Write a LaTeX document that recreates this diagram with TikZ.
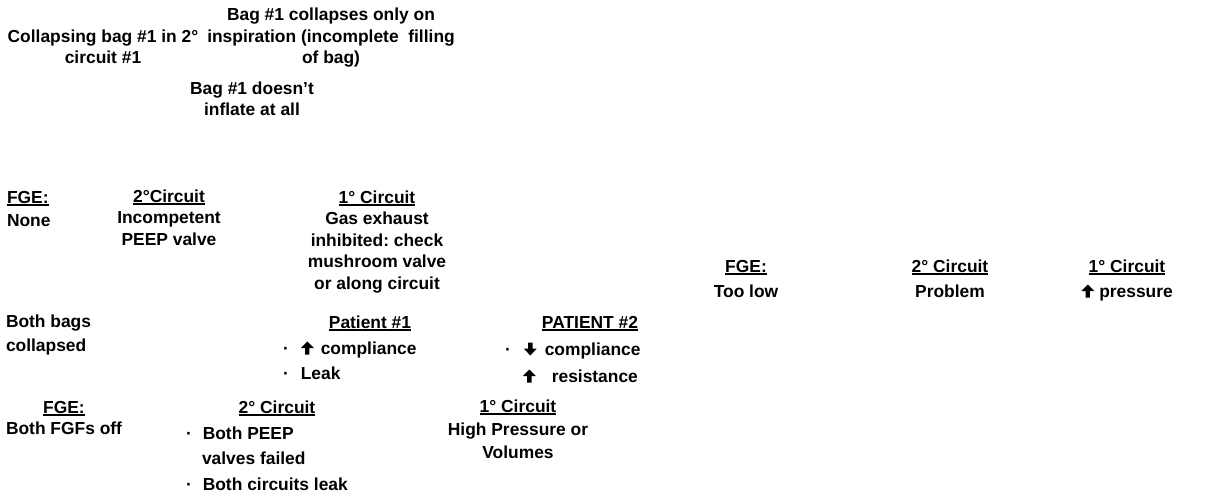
\documentclass[tikz,border=0pt]{standalone}
\usepackage{fontspec}
\setmainfont{Liberation Sans}
\frenchspacing
\newcommand{\upar}{\tikz[baseline=0pt,x=1pt,y=1pt]{\fill (-2.2,-0.5) rectangle (2.2,7) (-6.5,6) -- (0,12.5) -- (6.5,6) -- cycle;}}
\newcommand{\downar}{\tikz[baseline=0pt,x=1pt,y=1pt]{\fill (-2.2,12.5) rectangle (2.2,5.5) (-6.5,6.5) -- (0,-0.5) -- (6.5,6.5) -- cycle;}}
\newcommand{\hdr}[1]{\setbox0\hbox{#1}\rlap{\rule[-2.8pt]{\wd0}{1.4pt}}\box0}
\tikzset{
  txt/.style={inner sep=0pt, outer sep=0pt, font=\bfseries\fontsize{17.4}{21.5}\selectfont, align=center, anchor=base},
  txtl/.style={txt, align=left, anchor=base west},
}
\begin{document}
\begin{tikzpicture}[x=1pt,y=-1pt]
\useasboundingbox (0,0) rectangle (1212,492);
% top block
\node[txt] (bagcol) at (331,64) {Bag \#1 collapses only on\\inspiration (incomplete\ \ filling\\of bag)};
\node[txt] (collapsing) at (103,64) {Collapsing bag \#1 in 2°\\circuit \#1};
\node[txt] (noinfl) at (252,116) {Bag \#1 doesn't\\inflate at all};
% row 2
\node[txtl, font=\bfseries\fontsize{17.4}{23}\selectfont] (fgeA) at (7,226) {\hdr{FGE:}\\None};
\node[txt] (circA2) at (169,245) {\hdr{2°Circuit}\\Incompetent\\PEEP valve};
\node[txt] (circA1) at (377,289) {\hdr{1° Circuit}\\Gas exhaust\\inhibited: check\\mushroom valve\\or along circuit};
% right group
\node[txt, font=\bfseries\fontsize{17.4}{25}\selectfont] (fgeB) at (746,297) {\hdr{FGE:}\\Too low};
\node[txt, font=\bfseries\fontsize{17.4}{25}\selectfont] (circB2) at (950,297) {\hdr{2° Circuit}\\Problem};
\node[txt, font=\bfseries\fontsize{17.4}{25}\selectfont] (circB1) at (1127,297) {\hdr{1° Circuit}\\\upar\hspace{5pt}pressure};
% row 3
\node[txtl, font=\bfseries\fontsize{17.4}{24}\selectfont] (bothbags) at (6,351) {Both bags\\collapsed};
\node[txt] (pat1) at (370,328) {\hdr{Patient \#1}};
\node[txtl] (pat1a) at (283,354) {·\hspace{12pt}\upar\hspace{7pt}compliance};
\node[txtl] (pat1b) at (283,379) {·\hspace{12pt}Leak};
\node[txt] (pat2) at (590,328) {\hdr{PATIENT \#2}};
\node[txtl] (pat2a) at (505,355) {·\hspace{13pt}\downar\hspace{8pt}compliance};
\node[txtl] (pat2b) at (522.8,382) {\upar\hspace{16pt}resistance};
% row 4
\node[txt, font=\bfseries\fontsize{17.4}{21}\selectfont] (fgeC) at (64,434) {\hdr{FGE:}\\Both FGFs off};
\node[txt] (circC2) at (277,413) {\hdr{2° Circuit}};
\node[txtl] (circC2a) at (186,439) {·\hspace{11pt}Both PEEP};
\node[txtl] (circC2b) at (202,464) {valves failed};
\node[txtl] (circC2c) at (186,490) {·\hspace{11pt}Both circuits leak};
\node[txt, font=\bfseries\fontsize{17.4}{23}\selectfont] (circC1) at (518,458) {\hdr{1° Circuit}\\High Pressure or\\Volumes};
\end{tikzpicture}
\end{document}
